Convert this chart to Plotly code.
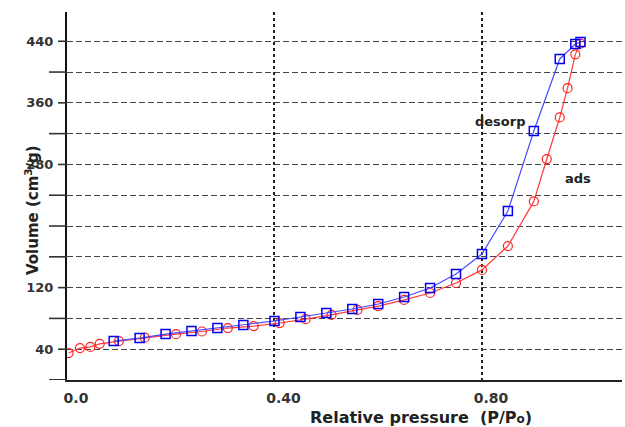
import plotly.graph_objects as go

# Adsorption branch (red circles)
ads_x = [0.003, 0.025, 0.045, 0.063, 0.10, 0.15, 0.21, 0.26, 0.31, 0.36, 0.41, 0.46,
         0.51, 0.56, 0.60, 0.65, 0.70, 0.75, 0.80, 0.85, 0.90, 0.925, 0.95, 0.965, 0.98, 0.99]
ads_y = [35, 41.5, 43, 47, 50.5, 55, 59.5, 63, 67.5, 70, 74, 79,
         84.5, 91, 96, 104, 113, 126, 143, 174, 232, 287, 341, 379, 423, 437]

# Desorption branch (blue squares)
des_x = [0.09, 0.14, 0.19, 0.24, 0.29, 0.34, 0.40, 0.45, 0.50, 0.55, 0.60, 0.65,
         0.70, 0.75, 0.80, 0.85, 0.90, 0.95, 0.98, 0.99]
des_y = [50.6, 54.5, 59.7, 63.6, 67.5, 71.4, 76.6, 81.8, 87, 92.2, 98.7, 107.8,
         119.5, 137.7, 163.6, 219.5, 323.4, 417, 436.4, 439]

x_tickvals = [0.0, 0.4, 0.8]
x_ticktext = ["0.0", "0.40", "0.80"]
y_labeled = [40, 120, 280, 360, 440]
y_unlabeled = [80, 160, 200, 240, 320, 400]

FONT = "DejaVu Sans"

fig = go.Figure()
fig.add_trace(go.Scatter(
    x=ads_x, y=ads_y, mode="lines+markers", name="ads",
    line=dict(color="#ff3b3b", width=1.2),
    marker=dict(symbol="circle-open", size=9, color="#ff2020", line=dict(width=1.2)),
))
fig.add_trace(go.Scatter(
    x=des_x, y=des_y, mode="lines+markers", name="desorp",
    line=dict(color="#4a4aff", width=1.2),
    marker=dict(symbol="square-open", size=9, color="#0000ee", line=dict(width=1.5)),
))

shapes = []
# tick marks on y axis (short for labelled, long for unlabelled)
for v in [0] + y_labeled + y_unlabeled:
    ln = 9 if v in y_labeled else 18
    shapes.append(dict(type="line", xref="paper", yref="y",
                       x0=-ln / 555, x1=0, y0=v, y1=v,
                       line=dict(color="#333333", width=1.6 if v else 2)))

grid_style = dict(gridcolor="#444444", gridwidth=1.2, griddash="6px,3px")

fig.update_layout(
    width=625, height=427,
    margin=dict(l=67, r=3, t=12, b=47),
    paper_bgcolor="white", plot_bgcolor="white",
    showlegend=False,
    font=dict(family=FONT, color="#333333"),
    shapes=shapes,
    xaxis=dict(
        range=[0, 1.07],
        tickvals=x_tickvals, ticktext=x_ticktext,
        ticks="", ticklabelshift=9, ticklabelstandoff=4,
        tickfont=dict(family=FONT, size=14, weight="bold", color="#333333"),
        showgrid=True, gridcolor="#222222", gridwidth=2, griddash="dot",
        showline=True, linecolor="#222222", linewidth=2,
        zeroline=False,
    ),
    yaxis=dict(
        range=[0, 478],
        tickvals=y_labeled,
        ticks="", ticklabelstandoff=9,
        tickfont=dict(family=FONT, size=13, weight="bold", color="#333333"),
        showgrid=True, **grid_style,
        minor=dict(tickvals=y_unlabeled, showgrid=True, ticks="", **grid_style),
        showline=True, linecolor="#111111", linewidth=2,
        zeroline=False,
    ),
    annotations=[
        dict(text="Relative pressure  (P/P<span style='font-size:12px'>o</span>)",
             xref="paper", yref="paper", x=0.638, y=-0.102,
             xanchor="center", yanchor="middle", showarrow=False,
             font=dict(family=FONT, size=16, weight="bold", color="#222222")),
        dict(text="Volume (cm<sup>3</sup>/g)", textangle=-90,
             xref="paper", yref="paper", x=-0.063, y=0.462,
             xanchor="center", yanchor="middle", showarrow=False,
             font=dict(family=FONT, size=15, weight="bold", color="#222222")),
        dict(text="desorp", x=0.835, y=336, xref="x", yref="y", showarrow=False,
             xanchor="center", yanchor="middle",
             font=dict(family=FONT, size=13, weight="bold", color="#222222")),
        dict(text="ads", x=0.985, y=262, xref="x", yref="y", showarrow=False,
             xanchor="center", yanchor="middle",
             font=dict(family=FONT, size=13, weight="bold", color="#222222")),
    ],
)

fig.write_html("out.html", config={"displayModeBar": False},
               post_script="document.body.style.margin='0';document.body.style.overflow='hidden';")
